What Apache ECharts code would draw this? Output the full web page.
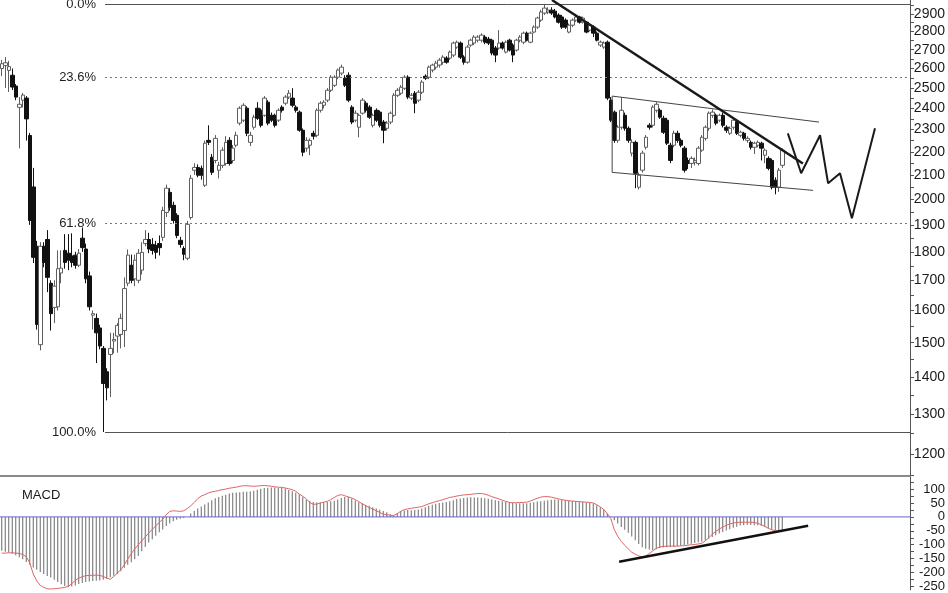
<!DOCTYPE html>
<html><head><meta charset="utf-8">
<script src="https://cdn.jsdelivr.net/npm/echarts@6/dist/echarts.min.js"></script>
<style>html,body{margin:0;padding:0;background:#fff}#c{width:948px;height:593px}</style>
</head><body><div id="c"></div>
<script>
// ---- price candles [open, close, low, high] ----
const candles = [
[2600,2625,2560,2645],[2615,2630,2500,2660],[2590,2610,2480,2640],[2565,2505,2490,2600],[2510,2455,2440,2520],[2405,2420,2215,2455],[2440,2465,2405,2475],[2450,2350,2250,2460],[2273,1917,1900,2285],[2050,1780,1760,2130],
[1820,1556,1540,1840],[1494,1820,1477,1835],[1820,1762,1745,1835],[1845,1710,1660,1880],[1690,1590,1537,1700],[1610,1680,1560,1700],[1612,1740,1600,1805],[1725,1742,1690,1805],[1805,1762,1740,1865],[1795,1770,1735,1865],
[1785,1762,1745,1868],[1788,1752,1740,1800],[1752,1795,1745,1810],[1850,1815,1800,1890],[1810,1705,1690,1830],[1715,1612,1600,1730],[1585,1590,1540,1600],[1575,1530,1440,1590],[1545,1490,1480,1555],[1483,1382,1254,1490],
[1415,1370,1336,1425],[1465,1483,1345,1530],[1505,1510,1468,1530],[1520,1553,1470,1560],[1525,1575,1483,1590],[1537,1672,1487,1710],[1690,1788,1680,1808],[1752,1700,1690,1790],[1705,1770,1680,1790],[1700,1795,1690,1810],
[1735,1798,1720,1835],[1830,1845,1820,1880],[1845,1810,1795,1870],[1827,1805,1790,1850],[1823,1798,1775,1840],[1830,1815,1787,1860],[1853,1956,1840,1970],[1948,2045,1930,2060],[2028,1968,1955,2045],[1976,1917,1905,1990],
[1937,1860,1850,1945],[1842,1827,1815,1855],[1812,1791,1770,1820],[1777,1902,1770,1915],[1928,2086,1920,2100],[2120,2132,2100,2150],[2132,2099,2090,2145],[2128,2099,2080,2140],[2057,2238,2050,2250],[2251,2242,2230,2320],
[2176,2111,2100,2190],[2162,2260,2150,2275],[2120,2141,2086,2155],[2141,2207,2130,2220],[2149,2242,2140,2270],[2251,2149,2140,2265],[2162,2216,2150,2230],[2229,2274,2220,2290],[2330,2401,2320,2410],[2344,2415,2335,2425],
[2401,2283,2270,2410],[2242,2274,2225,2290],[2311,2358,2300,2370],[2401,2353,2345,2430],[2391,2320,2310,2400],[2367,2450,2360,2460],[2430,2330,2320,2440],[2367,2344,2335,2380],[2367,2320,2310,2375],[2344,2391,2335,2400],
[2406,2391,2380,2415],[2425,2455,2415,2465],[2455,2474,2445,2490],[2450,2415,2405,2499],[2406,2391,2380,2415],[2382,2297,2290,2390],[2297,2198,2180,2305],[2216,2251,2200,2265],[2229,2251,2185,2260],[2283,2270,2255,2295],
[2274,2391,2265,2400],[2391,2425,2380,2435],[2415,2430,2400,2440],[2440,2489,2430,2500],[2489,2555,2480,2565],[2514,2555,2505,2565],[2555,2592,2545,2600],[2576,2607,2565,2620],[2550,2514,2505,2565],[2565,2440,2430,2580],
[2406,2335,2325,2415],[2344,2377,2335,2390],[2311,2367,2265,2375],[2377,2440,2370,2450],[2425,2391,2380,2435],[2406,2358,2350,2415],[2320,2367,2310,2375],[2391,2344,2335,2400],[2382,2320,2310,2390],[2335,2297,2238,2345],
[2306,2330,2295,2340],[2335,2377,2325,2385],[2367,2464,2360,2475],[2464,2489,2455,2500],[2474,2504,2465,2515],[2499,2555,2490,2565],[2555,2455,2445,2565],[2450,2464,2440,2475],[2474,2425,2377,2485],[2440,2479,2430,2490],
[2479,2530,2470,2540],[2560,2550,2540,2570],[2555,2607,2545,2615],[2592,2618,2580,2625],[2607,2628,2595,2640],[2618,2644,2605,2655],[2633,2660,2620,2670],[2655,2633,2625,2665],[2655,2687,2645,2695],[2671,2736,2660,2745],
[2714,2741,2705,2750],[2736,2660,2650,2745],[2660,2633,2620,2670],[2633,2714,2625,2725],[2725,2752,2715,2760],[2736,2769,2725,2780],[2752,2769,2740,2780],[2752,2780,2740,2790],[2769,2741,2730,2780],[2758,2736,2725,2770],
[2752,2682,2670,2760],[2709,2671,2633,2720],[2709,2736,2700,2808],[2736,2709,2700,2745],[2687,2741,2680,2750],[2752,2698,2690,2760],[2725,2671,2633,2735],[2698,2752,2690,2760],[2752,2769,2740,2780],[2741,2791,2730,2800],
[2791,2752,2745,2800],[2741,2791,2735,2800],[2797,2825,2790,2835],[2825,2877,2815,2885],[2865,2912,2855,2925],[2906,2935,2895,2958],[2912,2923,2900,2940],[2923,2906,2895,2940],[2917,2883,2875,2930],[2894,2853,2845,2905],
[2883,2825,2815,2895],[2865,2825,2815,2875],[2797,2836,2790,2845],[2836,2865,2825,2875],[2865,2883,2855,2895],[2883,2853,2845,2890],[2853,2877,2845,2885],[2853,2797,2790,2860],[2808,2836,2800,2845],[2825,2791,2769,2835],
[2791,2752,2745,2800],[2725,2741,2715,2750],[2714,2736,2705,2745],[2741,2450,2440,2750],[2440,2344,2335,2455],[2382,2251,2240,2390],[2251,2311,2240,2320],[2311,2391,2300,2455],[2367,2306,2295,2380],[2306,2251,2240,2315],
[2194,2242,2180,2255],[2242,2107,2045,2250],[2049,2099,2040,2110],[2120,2194,2110,2205],[2220,2265,2210,2275],[2320,2311,2300,2330],[2320,2406,2310,2415],[2391,2420,2380,2430],[2391,2358,2350,2400],[2353,2288,2280,2365],
[2344,2238,2230,2355],[2229,2162,2150,2240],[2229,2283,2220,2295],[2283,2251,2240,2295],[2251,2229,2220,2260],[2216,2120,2110,2225],[2162,2149,2125,2175],[2149,2171,2130,2180],[2154,2162,2140,2175],[2149,2216,2140,2225],
[2207,2265,2200,2275],[2260,2311,2250,2320],[2306,2377,2295,2385],[2367,2382,2355,2395],[2367,2330,2320,2375],[2344,2367,2335,2375],[2367,2320,2310,2380],[2311,2297,2285,2320],[2283,2306,2275,2315],[2311,2344,2300,2355],
[2335,2283,2275,2345],[2274,2288,2265,2295],[2283,2260,2250,2290],[2251,2260,2240,2270],[2242,2220,2210,2250],[2220,2238,2190,2245],[2229,2242,2220,2250],[2238,2216,2162,2245],[2185,2207,2150,2215],[2171,2128,2120,2180],
[2162,2049,2040,2170],[2078,2049,2020,2090],[2049,2120,2030,2130],[2141,2207,2130,2215]
];
// ---- MACD histogram ----
const macdHist = [
-122,-125,-128,-132,-138,-145,-152,-162,-172,-182,
-190,-198,-205,-212,-218,-226,-234,-242,-248,-252,
-250,-246,-241,-237,-234,-232,-230,-229,-228,-226,
-222,-217,-211,-205,-195,-183,-172,-163,-152,-140,
-123,-108,-92,-80,-68,-55,-45,-33,-24,-16,
-10,-7,-4,0,12,22,30,37,45,52,
60,67,72,76,80,84,87,88,89,90,
90,91,94,98,101,104,105,106,106,105,
105,102,97,92,87,81,72,63,57,54,
52,52,53,54,56,58,63,68,72,72,
66,59,53,49,44,40,35,30,26,21,
17,10,5,14,21,23,25,24,25,27,
30,35,40,44,47,50,52,54,56,60,
64,66,68,70,71,70,70,69,67,65,
63,60,58,56,54,52,50,49,49,49,
49,51,53,55,56,58,60,62,63,63,
62,60,58,57,56,55,54,52,50,48,
42,35,27,12,0,-12,-24,-36,-46,-57,
-70,-84,-97,-109,-114,-117,-119,-116,-112,-110,
-109,-108,-107,-105,-104,-101,-99,-96,-94,-91,
-88,-84,-78,-72,-66,-60,-54,-49,-44,-39,
-35,-31,-30,-29,-29,-30,-30,-32,-36,-41,
-45,-48,-49,-49
];
// ---- MACD signal (red line) ----
const macdSignal = [
-130,-130,-129,-129,-130,-131,-135,-143,-165,-205,
-230,-246,-253,-258,-259,-258,-257,-255,-253,-250,
-240,-228,-220,-215,-211,-210,-210,-209,-210,-214,
-220,-224,-214,-202,-190,-172,-152,-132,-115,-100,
-86,-72,-58,-45,-32,-20,-8,8,20,22,
21,20,22,30,40,52,66,75,80,86,
90,92,95,98,100,103,105,107,110,112,
112,111,110,111,112,113,112,110,108,107,
106,104,101,98,92,82,74,65,52,45,
46,50,53,56,62,70,77,80,76,72,
68,62,55,47,40,34,28,22,16,10,
8,6,5,12,20,26,29,31,33,35,
37,42,47,51,55,58,62,66,70,72,
75,77,79,80,81,83,84,84,82,78,
73,69,65,60,56,52,51,51,52,52,
53,57,62,67,71,73,73,71,68,65,
62,60,58,57,56,55,54,53,52,50,
44,36,27,12,-5,-45,-70,-88,-102,-115,
-127,-134,-140,-144,-140,-132,-122,-113,-108,-106,
-105,-105,-105,-105,-104,-103,-102,-100,-99,-97,
-95,-86,-75,-62,-52,-44,-36,-30,-25,-22,
-20,-19,-19,-19,-19,-20,-23,-28,-34,-41,
-46,-50,-52,-53
];
// ---- axis tick labels ----
const priceTicks = [1200,1300,1400,1500,1600,1700,1800,1900,2000,2100,2200,2300,2400,2500,2600,2700,2800,2900];
const macdTicks = [100,50,0,-50,-100,-150,-200,-250];
// ---- Fibonacci retracement ----
const fibNames = ['0.0%','23.6%','61.8%','100.0%'];
const fibValues = [2958,2556,1905,1254];
const fibStart = 29.5;
// ---- drawn annotations [slot, value] ----
const trendLine = [[157.2,2983],[228.9,2149]];
const projection = [[224.6,2283],[228.4,2107],[233.8,2274],[236.1,2065],[239.5,2107],[242.9,1925],[249.5,2306]];
const channelUpper = [[174.4,2460],[233.5,2335]];
const channelLower = [[174.4,2111],[231.8,2036]];
const channelLeft = [[174.4,2460],[174.4,2111]];
const macdTrend = [[176.4,-161],[230.4,-32]];
const SLOTS = 260;

const cats = Array.from({length: SLOTS}, (_, i) => String(i));
const priceMinor = [];
for (let v = 1150; v <= 2950; v += 50) priceMinor.push(v);
const macdMinor = [];
for (let v = -250; v <= 125; v += 25) macdMinor.push(v);

const FONT = '"Liberation Sans", Arial, sans-serif';
const lineS = (data, color, width, xi, yi, extra) => Object.assign({
  type: 'line', data, xAxisIndex: xi, yAxisIndex: yi, symbol: 'none', silent: true,
  lineStyle: {color, width}, z: 5, animation: false
}, extra || {});

const series = [];
series.push({
  type: 'candlestick', xAxisIndex: 0, yAxisIndex: 0, data: candles, barWidth: 4,
  itemStyle: {color: '#ffffff', color0: '#111111', borderColor: '#5e5e5e', borderColor0: '#111111', borderWidth: 1}
});
fibNames.forEach((name, k) => {
  const solid = (k === 0 || k === 3);
  series.push({
    type: 'line', xAxisIndex: 1, yAxisIndex: 0, data: [], silent: true,
    markLine: {
      symbol: 'none', silent: true, animation: false,
      lineStyle: {color: solid ? '#555' : '#777', width: 1, type: solid ? 'solid' : [2, 3]},
      label: {show: true, position: 'start', distance: 9, formatter: name, color: '#1e1e1e', fontSize: 13, fontFamily: FONT},
      data: [[{coord: [fibStart, fibValues[k]]}, {coord: [SLOTS - 0.5, fibValues[k]]}]]
    }
  });
});
series.push(lineS(channelUpper, '#444', 1, 1, 0));
series.push(lineS(channelLower, '#444', 1, 1, 0));
series.push(lineS(channelLeft, '#444', 1, 1, 0));
series.push(lineS(trendLine, '#1a1a1a', 2.5, 1, 0));
series.push(lineS(projection, '#1a1a1a', 2, 1, 0));
series.push({type: 'bar', xAxisIndex: 2, yAxisIndex: 1, data: macdHist, barWidth: 1, itemStyle: {color: '#6a6a6a'}, silent: true});
series.push(lineS([[-0.5, 0], [SLOTS - 0.5, 0]], '#6464d2', 1, 3, 1));
series.push(lineS(macdSignal, '#e06464', 1, 2, 1));
series.push(lineS(macdTrend, '#111', 2.5, 3, 1));

const plain = v => String(Math.round(v));
const option = {
  animation: false,
  backgroundColor: '#ffffff',
  title: {text: 'MACD', left: 17, top: 484, textStyle: {fontSize: 13, fontWeight: 'normal', color: '#1a1a1a', fontFamily: FONT}},
  grid: [
    {left: 0, right: 38, top: 0, height: 476},
    {left: 0, right: 38, top: 476, height: 117}
  ],
  xAxis: [
    {type: 'category', gridIndex: 0, data: cats, show: false},
    {type: 'value', gridIndex: 0, min: -0.5, max: SLOTS - 0.5, show: false},
    {type: 'category', gridIndex: 1, data: cats, show: false},
    {type: 'value', gridIndex: 1, min: -0.5, max: SLOTS - 0.5, position: 'top',
     axisLine: {show: true, onZero: false, lineStyle: {color: '#8a8a8a', width: 2}},
     axisTick: {show: false}, axisLabel: {show: false}, splitLine: {show: false}}
  ],
  yAxis: [
    {type: 'log', gridIndex: 0, min: 1148, max: 2983, position: 'right',
     axisLine: {show: true, onZero: false, lineStyle: {color: '#555'}},
     axisTick: {show: true, length: 4, customValues: priceMinor, lineStyle: {color: '#555'}},
     axisLabel: {customValues: priceTicks, formatter: plain, color: '#1a1a1a', fontSize: 14, fontFamily: FONT, align: 'right', margin: 35},
     splitLine: {show: false}},
    {type: 'value', gridIndex: 1, min: -262, max: 147, position: 'right',
     axisLine: {show: true, onZero: false, lineStyle: {color: '#555'}},
     axisTick: {show: true, length: 4, customValues: macdMinor, lineStyle: {color: '#555'}},
     axisLabel: {customValues: macdTicks, formatter: plain, color: '#1a1a1a', fontSize: 13, fontFamily: FONT, align: 'right', margin: 35},
     splitLine: {show: false}}
  ],
  series
};
const chart = echarts.init(document.getElementById('c'), null, {renderer: 'canvas'});
chart.setOption(option);
</script>
</body></html>
